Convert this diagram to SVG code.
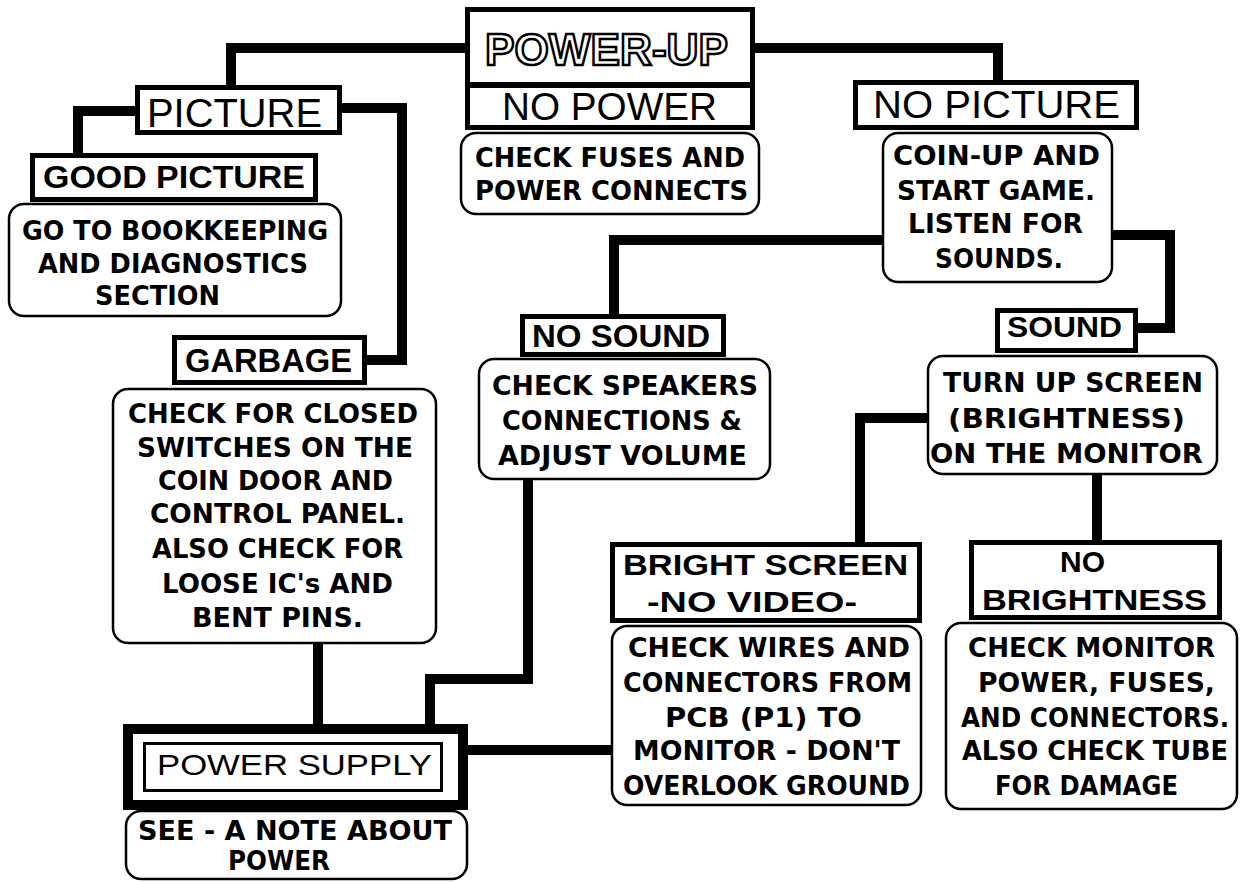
<svg xmlns="http://www.w3.org/2000/svg" width="1240" height="882" viewBox="0 0 1240 882">
<style>
.hb{fill:#fff;stroke:#000;stroke-width:5}
.rb{fill:#fff;stroke:#000;stroke-width:2.5}
.cn{fill:none;stroke:#000;stroke-width:10;stroke-linejoin:miter;stroke-linecap:butt}
.t1{font-family:"Liberation Sans",Arial,sans-serif;font-weight:normal;fill:#000}
.t2{font-family:"Liberation Sans",Arial,sans-serif;font-weight:bold;fill:#000}
.t3{font-family:"DejaVu Sans",Verdana,sans-serif;font-weight:bold;font-size:26px;fill:#000}
.pu{font-family:"Liberation Sans",Arial,sans-serif;font-weight:bold;font-size:45px;fill:#fff;stroke:#000;stroke-width:2.5}
</style>
<rect width="1240" height="882" fill="#fff"/>
<g id="connectors">
<path class="cn" d="M465,48 H231 V85"/>
<path class="cn" d="M755,48 H998 V80"/>
<path class="cn" d="M135,111 H78 V153"/>
<path class="cn" d="M342,108 H402 V360 H367"/>
<path class="cn" d="M882,240 H614 V314"/>
<path class="cn" d="M1113,235 H1170 V328 H1138"/>
<path class="cn" d="M927,418 H860 V542"/>
<path class="cn" d="M1097,475 V540"/>
<path class="cn" d="M528,480 V679 H430 V724"/>
<path class="cn" d="M318,644 V724"/>
<path class="cn" d="M468,750 H611"/>
</g>
<g id="power-up">
<rect class="hb" x="467.5" y="9.5" width="285" height="118"/>
<line x1="465" y1="85" x2="755" y2="85" stroke="#000" stroke-width="6"/>
<text class="pu" x="485" y="65" textLength="243" lengthAdjust="spacingAndGlyphs">POWER-UP</text>
<text class="t1" x="502" y="120" font-size="38" textLength="215" lengthAdjust="spacingAndGlyphs">NO POWER</text>
</g>
<g id="check-fuses">
<rect class="rb" x="461" y="133" width="298" height="81" rx="15"/>
<text class="t3" x="475" y="167" textLength="270" lengthAdjust="spacingAndGlyphs">CHECK FUSES AND</text>
<text class="t3" x="475" y="200" textLength="273" lengthAdjust="spacingAndGlyphs">POWER CONNECTS</text>
</g>
<g id="picture">
<rect class="hb" x="137.5" y="87.5" width="202" height="45"/>
<text class="t1" x="147" y="127" font-size="40" textLength="175" lengthAdjust="spacingAndGlyphs">PICTURE</text>
</g>
<g id="good-picture">
<rect class="hb" x="32.5" y="155.5" width="283" height="44"/>
<text class="t2" x="43" y="188" font-size="31" textLength="262" lengthAdjust="spacingAndGlyphs">GOOD PICTURE</text>
</g>
<g id="bookkeeping">
<rect class="rb" x="9" y="204" width="332" height="112" rx="15"/>
<text class="t3" x="22" y="240" textLength="306" lengthAdjust="spacingAndGlyphs">GO TO BOOKKEEPING</text>
<text class="t3" x="38" y="273" textLength="270" lengthAdjust="spacingAndGlyphs">AND DIAGNOSTICS</text>
<text class="t3" x="95" y="305" textLength="125" lengthAdjust="spacingAndGlyphs">SECTION</text>
</g>
<g id="no-picture">
<rect class="hb" x="855.5" y="82.5" width="281" height="45"/>
<text class="t1" x="873" y="118" font-size="39" textLength="247" lengthAdjust="spacingAndGlyphs">NO PICTURE</text>
</g>
<g id="coin-up">
<rect class="rb" x="883" y="133" width="229" height="149" rx="15"/>
<text class="t3" x="893" y="165" textLength="207" lengthAdjust="spacingAndGlyphs">COIN-UP AND</text>
<text class="t3" x="897" y="200" textLength="198" lengthAdjust="spacingAndGlyphs">START GAME.</text>
<text class="t3" x="908" y="233" textLength="175" lengthAdjust="spacingAndGlyphs">LISTEN FOR</text>
<text class="t3" x="935" y="268" textLength="128" lengthAdjust="spacingAndGlyphs">SOUNDS.</text>
</g>
<g id="garbage">
<rect class="hb" x="174.5" y="337.5" width="190" height="45"/>
<text class="t2" x="185" y="372" font-size="33" textLength="167" lengthAdjust="spacingAndGlyphs">GARBAGE</text>
</g>
<g id="check-closed">
<rect class="rb" x="113" y="389" width="323" height="254" rx="15"/>
<text class="t3" x="128" y="423" textLength="290" lengthAdjust="spacingAndGlyphs">CHECK FOR CLOSED</text>
<text class="t3" x="137" y="457" textLength="276" lengthAdjust="spacingAndGlyphs">SWITCHES ON THE</text>
<text class="t3" x="158" y="490" textLength="235" lengthAdjust="spacingAndGlyphs">COIN DOOR AND</text>
<text class="t3" x="150" y="523" textLength="255" lengthAdjust="spacingAndGlyphs">CONTROL PANEL.</text>
<text class="t3" x="152" y="558" textLength="251" lengthAdjust="spacingAndGlyphs">ALSO CHECK FOR</text>
<text class="t3" x="162" y="593" textLength="231" lengthAdjust="spacingAndGlyphs">LOOSE IC's AND</text>
<text class="t3" x="192" y="627" textLength="171" lengthAdjust="spacingAndGlyphs">BENT PINS.</text>
</g>
<g id="no-sound">
<rect class="hb" x="522.5" y="316.5" width="201" height="38"/>
<text class="t2" x="532" y="347" font-size="31" textLength="178" lengthAdjust="spacingAndGlyphs">NO SOUND</text>
</g>
<g id="check-speakers">
<rect class="rb" x="479" y="359" width="291" height="120" rx="15"/>
<text class="t3" x="492" y="395" textLength="266" lengthAdjust="spacingAndGlyphs">CHECK SPEAKERS</text>
<text class="t3" x="502" y="430" textLength="240" lengthAdjust="spacingAndGlyphs">CONNECTIONS &amp;</text>
<text class="t3" x="498" y="465" textLength="249" lengthAdjust="spacingAndGlyphs">ADJUST VOLUME</text>
</g>
<g id="sound">
<rect class="hb" x="997.5" y="310.5" width="138" height="40"/>
<text class="t2" x="1007" y="337" font-size="29" textLength="115" lengthAdjust="spacingAndGlyphs">SOUND</text>
</g>
<g id="turn-up">
<rect class="rb" x="928" y="356" width="289" height="118" rx="15"/>
<text class="t3" x="943" y="392" textLength="260" lengthAdjust="spacingAndGlyphs">TURN UP SCREEN</text>
<text class="t3" x="948" y="428" textLength="237" lengthAdjust="spacingAndGlyphs">(BRIGHTNESS)</text>
<text class="t3" x="930" y="463" textLength="273" lengthAdjust="spacingAndGlyphs">ON THE MONITOR</text>
</g>
<g id="bright-screen">
<rect class="hb" x="612.5" y="544.5" width="307" height="76"/>
<text class="t2" x="623" y="575" font-size="29" textLength="285" lengthAdjust="spacingAndGlyphs">BRIGHT SCREEN</text>
<text class="t2" x="647" y="612" font-size="29" textLength="210" lengthAdjust="spacingAndGlyphs">-NO VIDEO-</text>
</g>
<g id="check-wires">
<rect class="rb" x="612" y="626" width="309" height="179" rx="15"/>
<text class="t3" x="628" y="657" textLength="282" lengthAdjust="spacingAndGlyphs">CHECK WIRES AND</text>
<text class="t3" x="623" y="692" textLength="289" lengthAdjust="spacingAndGlyphs">CONNECTORS FROM</text>
<text class="t3" x="665" y="727" textLength="197" lengthAdjust="spacingAndGlyphs">PCB (P1) TO</text>
<text class="t3" x="633" y="760" textLength="267" lengthAdjust="spacingAndGlyphs">MONITOR - DON'T</text>
<text class="t3" x="623" y="795" textLength="287" lengthAdjust="spacingAndGlyphs">OVERLOOK GROUND</text>
</g>
<g id="no-brightness">
<rect class="hb" x="971.5" y="542.5" width="248" height="75"/>
<text class="t2" x="1060" y="572" font-size="30" textLength="45" lengthAdjust="spacingAndGlyphs">NO</text>
<text class="t2" x="982" y="610" font-size="30" textLength="225" lengthAdjust="spacingAndGlyphs">BRIGHTNESS</text>
</g>
<g id="check-monitor">
<rect class="rb" x="946" y="623" width="291" height="186" rx="15"/>
<text class="t3" x="968" y="657" textLength="247" lengthAdjust="spacingAndGlyphs">CHECK MONITOR</text>
<text class="t3" x="978" y="692" textLength="237" lengthAdjust="spacingAndGlyphs">POWER, FUSES,</text>
<text class="t3" transform="translate(961,727) scale(0.95,1)" x="0" y="0">AND CONNECTORS.</text>
<text class="t3" x="962" y="760" textLength="266" lengthAdjust="spacingAndGlyphs">ALSO CHECK TUBE</text>
<text class="t3" x="995" y="795" textLength="183" lengthAdjust="spacingAndGlyphs">FOR DAMAGE</text>
</g>
<g id="power-supply">
<rect x="123" y="724" width="345" height="86" fill="#000"/>
<rect x="133" y="734" width="325" height="66" fill="#fff"/>
<rect x="144.5" y="743.5" width="297" height="47" fill="none" stroke="#000" stroke-width="3"/>
<text class="t1" x="157" y="775" font-size="30" textLength="275" lengthAdjust="spacingAndGlyphs">POWER SUPPLY</text>
</g>
<g id="see-note">
<rect class="rb" x="126" y="811" width="341" height="68" rx="15"/>
<text class="t3" x="138" y="840" textLength="314" lengthAdjust="spacingAndGlyphs">SEE - A NOTE ABOUT</text>
<text class="t3" x="228" y="870" textLength="102" lengthAdjust="spacingAndGlyphs">POWER</text>
</g>
</svg>
